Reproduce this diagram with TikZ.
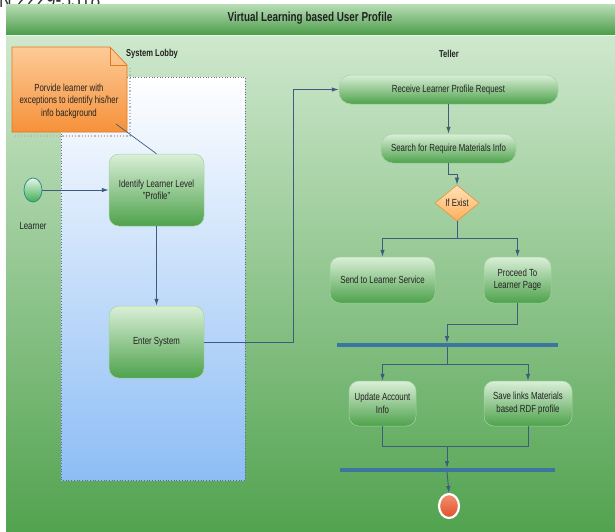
\documentclass[tikz,border=0pt]{standalone}
\usepackage{fontspec}
\setmainfont{Liberation Sans}[FakeStretch=0.76]
\usetikzlibrary{shapes.geometric,arrows.meta}
\definecolor{bodytop}{HTML}{CFE8CD}
\definecolor{bodybot}{HTML}{52A350}
\definecolor{titletop}{HTML}{B8DEB6}
\definecolor{titlebot}{HTML}{4C9C4A}
\definecolor{boxtop}{HTML}{DAEFD8}
\definecolor{boxbot}{HTML}{4EA24C}
\definecolor{boxline}{HTML}{A4D4A2}
\definecolor{lobtop}{HTML}{FFFFFF}
\definecolor{lobbot}{HTML}{8DBDF5}
\definecolor{notetop}{HTML}{FDCB98}
\definecolor{notebot}{HTML}{F6913A}
\definecolor{noteline}{HTML}{E27A22}
\definecolor{arrcol}{HTML}{3E5C7E}
\definecolor{barcol}{HTML}{3A76A0}
\definecolor{txt}{HTML}{222222}
\definecolor{starttop}{HTML}{E6F6E6}
\definecolor{startbot}{HTML}{3FAE54}
\definecolor{startline}{HTML}{2E8E8A}
\definecolor{dectop}{HTML}{FFE3B8}
\definecolor{decbot}{HTML}{FFAE5A}
\definecolor{decline}{HTML}{E8913A}
\definecolor{endtop}{HTML}{F39070}
\definecolor{endbot}{HTML}{E0502A}
\tikzset{
  proc/.style={rounded corners=10pt, top color=boxtop, bottom color=boxbot, draw=boxline,
    line width=0.5pt, align=center, text=txt, font=\fontsize{10.3}{12.5}\selectfont, inner sep=1pt},
  arr/.style={draw=arrcol, line width=0.9pt, -{Latex[length=7pt,width=4.5pt]}},
  ln/.style={draw=arrcol, line width=0.9pt},
  bar/.style={fill=barcol, draw=none, inner sep=0, minimum height=3.5pt},
  lbl/.style={font=\fontsize{10.3}{12.5}\selectfont, text=txt},
}
\begin{document}
\begin{tikzpicture}[x=1pt,y=-1pt]
\useasboundingbox (0,0) rectangle (615,531);
% header text partially hidden by the frame
\node[anchor=north west, inner sep=0, font=\fontsize{23}{26}\selectfont, text=black!80] (hdr) at (-1,-9) {N 2229-5518};
% frame body
\shade[top color=bodytop, bottom color=bodybot] (6,35) rectangle (615,531);
\shade[top color=titletop, bottom color=titlebot] (6,4) rectangle (615,35);
\draw[white!90!green, line width=1pt] (6,35.5) -- (615,35.5);
\node[font=\bfseries\fontsize{13}{15}\selectfont, text=txt] (title) at (310,18) {Virtual Learning based User Profile};
% lanes
\node[font=\bfseries\fontsize{10}{12}\selectfont, text=txt] (lane1) at (152,54) {System Lobby};
\node[font=\bfseries\fontsize{10}{12}\selectfont, text=txt] (lane2) at (449,54) {Teller};
% lobby area
\shade[top color=lobtop, bottom color=lobbot] (61,77) rectangle (245,480);
\draw[gray!80!blue, dotted, line width=0.7pt] (61,77) rectangle (245,480);
% note shadow
\draw[gray!55, dotted, line width=1.2pt] (130,68) -- (130,136) -- (15,136);
% note
\shade[top color=notetop, bottom color=notebot, draw=noteline, line width=0.7pt]
  (12,47) -- (110,47) -- (127,65) -- (127,132) -- (12,132) -- cycle;
\draw[noteline, line width=0.7pt] (110,47) -- (110,65) -- (127,65);
\node[align=center, font=\fontsize{10.3}{12.5}\selectfont, text=txt] (note) at (69,101)
  {Porvide learner with\\exceptions to identify his/her\\info background};
% start
\node[ellipse, minimum width=18pt, minimum height=24pt, inner sep=0, draw=startline, line width=0.8pt,
  top color=starttop, bottom color=startbot] (start) at (33,190) {};
\node[lbl] (learner) at (33,226) {Learner};
% process boxes
\node[proc, minimum width=95pt, minimum height=72pt] (ident) at (156.5,190) {Identify Learner Level\\"Profile"};
\node[proc, minimum width=95pt, minimum height=72pt] (enter) at (156.5,342) {Enter System};
\node[proc, rounded corners=12pt, minimum width=219pt, minimum height=29pt] (recv) at (448.5,89.5) {Receive Learner Profile Request};
\node[proc, rounded corners=12pt, minimum width=135pt, minimum height=29pt] (search) at (448.5,148.5) {Search for Require Materials Info};
\node[diamond, minimum width=44pt, minimum height=36pt, inner sep=0, draw=decline, line width=0.6pt,
  top color=dectop, bottom color=decbot, font=\fontsize{10.3}{12.5}\selectfont, text=txt] (dec) at (457,203) {If Exist};
\node[proc, minimum width=105pt, minimum height=46pt] (send) at (382.5,280) {Send to Learner Service};
\node[proc, minimum width=67pt, minimum height=46pt] (proc) at (517.5,280) {Proceed To\\Learner Page};
\node[proc, minimum width=67pt, minimum height=45pt] (update) at (382.5,403.5) {Update Account\\Info};
\node[proc, minimum width=88pt, minimum height=45pt] (save) at (528,403.5) {Save links Materials\\based RDF profile};
% bars
\node[bar, minimum width=221pt] (bar1) at (447.5,345) {};
\node[bar, minimum width=215pt] (bar2) at (447.5,470) {};
% end
\node[ellipse, minimum width=20pt, minimum height=24pt, inner sep=0, draw=white, line width=2.2pt,
  top color=endtop, bottom color=endbot] (end) at (449,506) {};
% note link
\coordinate (nl) at (116,124);
\draw[ln, line width=0.7pt] (nl) -- (ident.north);
% connectors
\draw[arr] (start.east) -- (ident.west);
\draw[arr] (ident.south) -- (enter.north);
\coordinate (j1) at (293,342);
\draw[arr] (enter.east) -- (j1) |- (recv.west);
\draw[arr] (recv.south) -- (search.north);
\coordinate (j2) at (448.5,174);
\draw[arr] (search.south) -- (j2) -| (dec.north);
\coordinate (f1) at (457,238);
\draw[ln] (dec.south) -- (f1);
\draw[arr] (f1) -| (send.north);
\draw[arr] (f1) -| (proc.north);
\coordinate (j3) at (517.5,324);
\coordinate (b1) at (447,343);
\draw[arr] (proc.south) -- (j3) -| (b1);
\coordinate (f2) at (447,364);
\draw[ln] (bar1.south -| f2) -- (f2);
\draw[arr] (f2) -| (update.north);
\draw[arr] (f2) -| (save.north);
\coordinate (m1) at (447,446);
\draw[ln] (update.south) |- (m1);
\draw[ln] (save.south) |- (m1);
\coordinate (b2) at (447,468);
\draw[arr] (m1) -- (b2);
\draw[arr] (bar2.south -| b2) -- (end.north);
\end{tikzpicture}
\end{document}
